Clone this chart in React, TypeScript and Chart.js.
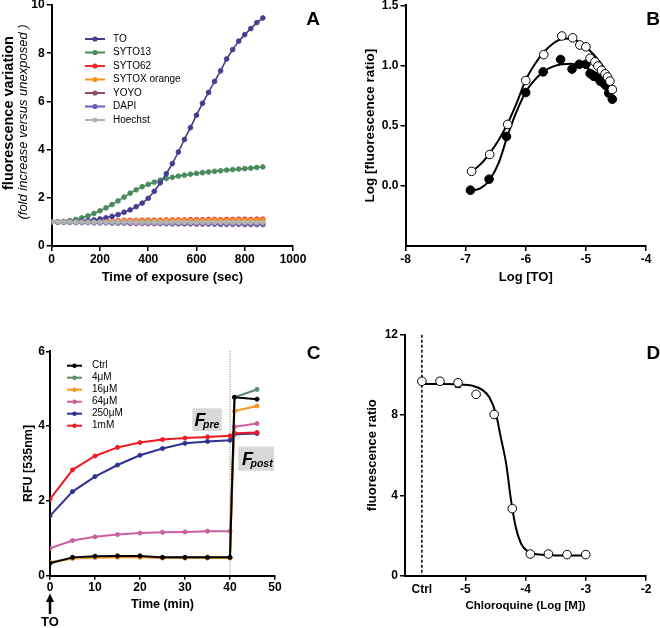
import React, { useEffect, useRef } from "react";
import { Chart, registerables } from "chart.js";

Chart.register(...registerables);

const FONT = "'Liberation Sans', Arial, Helvetica, sans-serif";

// ================= Panel A data =================
const timeA = [0, 25, 50, 75, 100, 125, 150, 175, 200, 225, 250, 275, 300, 325, 350, 375, 400, 425, 450, 475, 500, 525, 550, 575, 600, 625, 650, 675, 700, 725, 750, 775, 800, 825, 850, 875];
const namesA = ["TO", "SYTO13", "SYTO62", "SYTOX orange", "YOYO", "DAPI", "Hoechst"];
const toA = [1.0, 1.0, 1.0, 1.01, 1.02, 1.03, 1.05, 1.08, 1.12, 1.17, 1.23, 1.3, 1.4, 1.5, 1.63, 1.78, 1.98, 2.27, 2.62, 3.0, 3.42, 3.9, 4.42, 4.91, 5.43, 5.92, 6.37, 6.83, 7.27, 7.76, 8.15, 8.5, 8.77, 9.02, 9.27, 9.46];
const syto13A = [1.0, 1.0, 1.02, 1.05, 1.1, 1.17, 1.25, 1.35, 1.46, 1.58, 1.72, 1.87, 2.03, 2.19, 2.33, 2.46, 2.56, 2.65, 2.73, 2.8, 2.85, 2.9, 2.94, 2.98, 3.01, 3.04, 3.07, 3.1, 3.12, 3.15, 3.17, 3.19, 3.21, 3.23, 3.26, 3.28];
const syto62A = [1.0, 1.0, 1.01, 1.02, 1.02, 1.03, 1.03, 1.04, 1.04, 1.05, 1.05, 1.05, 1.06, 1.06, 1.06, 1.07, 1.07, 1.07, 1.07, 1.08, 1.08, 1.08, 1.08, 1.09, 1.09, 1.09, 1.1, 1.1, 1.09, 1.1, 1.1, 1.11, 1.11, 1.1, 1.11, 1.11];
const sytoxOrangeA = [1.0, 1.0, 1.0, 1.01, 1.01, 1.01, 1.02, 1.02, 1.02, 1.02, 1.03, 1.03, 1.03, 1.03, 1.04, 1.04, 1.04, 1.04, 1.04, 1.05, 1.05, 1.05, 1.05, 1.05, 1.05, 1.06, 1.06, 1.06, 1.06, 1.06, 1.06, 1.07, 1.07, 1.07, 1.07, 1.07];
const yoyoA = [1.0, 0.99, 0.99, 0.98, 0.98, 0.97, 0.97, 0.96, 0.96, 0.96, 0.95, 0.95, 0.95, 0.94, 0.94, 0.94, 0.93, 0.93, 0.93, 0.93, 0.92, 0.92, 0.92, 0.92, 0.91, 0.91, 0.91, 0.91, 0.9, 0.9, 0.9, 0.9, 0.89, 0.89, 0.89, 0.89];
const dapiA = [1.0, 0.99, 0.99, 0.99, 0.98, 0.98, 0.98, 0.97, 0.97, 0.97, 0.96, 0.96, 0.96, 0.96, 0.95, 0.95, 0.95, 0.95, 0.94, 0.94, 0.94, 0.94, 0.93, 0.93, 0.93, 0.93, 0.93, 0.92, 0.92, 0.92, 0.92, 0.92, 0.91, 0.91, 0.91, 0.91];
const hoechstA = [1.0, 1.0, 1.0, 1.0, 1.0, 0.99, 0.99, 0.99, 0.99, 0.99, 0.99, 0.99, 0.99, 0.99, 0.98, 0.98, 0.98, 0.98, 0.98, 0.98, 0.98, 0.98, 0.98, 0.98, 0.98, 0.98, 0.98, 0.98, 0.98, 0.98, 0.98, 0.98, 0.98, 0.98, 0.98, 0.98];
const xTicksA = [0, 200, 400, 600, 800, 1000];
const yTicksA = [0, 2, 4, 6, 8, 10];
const colorsA = ["#463c8f", "#4a8a5e", "#ee2a2a", "#f7941d", "#8c4f6e", "#6a5fb8", "#b3b3b3"];
const orderA = [1, 2, 6, 5, 4, 3, 0];

// ================= Panel B data =================
const openPointsB = [[-6.9, 0.12], [-6.6, 0.26], [-6.3, 0.51], [-6.0, 0.875], [-5.7, 1.09], [-5.4, 1.245], [-5.22, 1.23], [-5.1, 1.17], [-5.0, 1.155], [-4.93, 1.06], [-4.85, 1.03], [-4.8, 0.995], [-4.74, 0.96], [-4.68, 0.93], [-4.64, 0.905], [-4.6, 0.87], [-4.56, 0.8]];
const filledPointsB = [[-6.92, -0.036], [-6.61, 0.055], [-6.32, 0.41], [-6.0, 0.775], [-5.71, 0.947], [-5.42, 1.05], [-5.23, 0.97], [-5.11, 1.01], [-5.0, 1.01], [-4.93, 0.933], [-4.87, 0.91], [-4.8, 0.9], [-4.76, 0.87], [-4.7, 0.85], [-4.66, 0.83], [-4.62, 0.77], [-4.56, 0.72]];
const openCurveB = [[-6.9, 0.12], [-6.75, 0.18], [-6.6, 0.27], [-6.45, 0.38], [-6.3, 0.52], [-6.15, 0.69], [-6.0, 0.88], [-5.85, 1.01], [-5.7, 1.11], [-5.55, 1.18], [-5.4, 1.22], [-5.25, 1.225], [-5.1, 1.19], [-4.95, 1.13], [-4.8, 1.05], [-4.7, 0.98], [-4.62, 0.91], [-4.55, 0.82]];
const filledCurveB = [[-6.9, -0.04], [-6.75, -0.02], [-6.6, 0.05], [-6.45, 0.19], [-6.3, 0.42], [-6.15, 0.62], [-6.0, 0.78], [-5.85, 0.88], [-5.7, 0.95], [-5.55, 0.99], [-5.4, 1.01], [-5.25, 1.015], [-5.1, 1.0], [-4.95, 0.97], [-4.8, 0.93], [-4.7, 0.89], [-4.62, 0.85], [-4.55, 0.81]];
const xTicksB = [-8, -7, -6, -5, -4];
const yTicksB = [-0.5, 0, 0.5, 1, 1.5];

// ================= Panel C data =================
const timeC = [0, 5, 10, 15, 20, 25, 30, 35, 40, 41, 46];
const namesC = ["Ctrl", "4μM", "16μM", "64μM", "250μM", "1mM"];
const ctrlC = [0.33, 0.49, 0.52, 0.53, 0.53, 0.49, 0.49, 0.49, 0.49, 4.77, 4.72];
const uM4C = [0.35, 0.47, 0.5, 0.51, 0.51, 0.48, 0.48, 0.48, 0.48, 4.77, 4.98];
const uM16C = [0.36, 0.46, 0.48, 0.49, 0.49, 0.47, 0.47, 0.47, 0.47, 4.4, 4.54];
const uM64C = [0.73, 0.94, 1.04, 1.1, 1.14, 1.16, 1.17, 1.19, 1.19, 3.98, 4.07];
const uM250C = [1.6, 2.25, 2.65, 2.96, 3.22, 3.4, 3.54, 3.59, 3.62, 3.78, 3.8];
const mM1C = [2.05, 2.83, 3.2, 3.43, 3.56, 3.64, 3.68, 3.71, 3.74, 3.81, 3.83];
const xTicksC = [0, 10, 20, 30, 40, 50];
const yTicksC = [0, 2, 4, 6];
const additionTimeC = 40;
const colorsC = ["#000000", "#5b8a6e", "#f7931e", "#cc5fa0", "#2e3192", "#ed1c24"];
const orderC = [0, 2, 1, 3, 5, 4];

// ================= Panel D data =================
const ctrlLogD = -5.72;
const ctrlRatioD = 9.68;
const logConcD = [-5.42, -5.12, -4.82, -4.52, -4.22, -3.92, -3.62, -3.31, -3.0];
const ratioD = [9.68, 9.61, 9.03, 8.03, 3.34, 1.08, 1.08, 1.05, 1.05];
const squarePointsD = [[-5.42, 9.68], [-5.12, 9.5]];
const curveD = [[-5.72, 9.54], [-5.4, 9.54], [-5.13, 9.53], [-4.88, 9.46], [-4.71, 9.24], [-4.6, 8.88], [-4.49, 8.05], [-4.41, 6.89], [-4.32, 5.56], [-4.24, 3.75], [-4.16, 2.4], [-4.07, 1.58], [-3.96, 1.2], [-3.77, 1.05], [-3.5, 1.01], [-2.99, 1.0]];
const xTicksD = [-5, -4, -3, -2];
const yTicksD = [0, 4, 8, 12];

// ================= helpers =================
const pts = (arr: number[][]) => arr.map(([x, y]) => ({ x, y }));

type ScaleOpts = {
  min: number; max: number; ticks: number[]; size: number; horizontal: boolean;
  title?: string; titleSize?: number; titlePad?: number;
  tickLength?: number; tickPad?: number; fontSize?: number;
  fmt?: (v: number) => string; hideTick?: (v: number) => boolean;
};

function makeScale(o: ScaleOpts) {
  const tl = o.tickLength ?? 5;
  return {
    type: "linear",
    position: o.horizontal ? "bottom" : "left",
    min: o.min,
    max: o.max,
    afterBuildTicks: (s: any) => { s.ticks = o.ticks.map((v) => ({ value: v })); },
    afterFit: (s: any) => {
      if (o.horizontal) { s.height = o.size; s.paddingLeft = 0; s.paddingRight = 0; }
      else { s.width = o.size; s.paddingTop = 0; s.paddingBottom = 0; }
    },
    ticks: {
      autoSkip: false, maxRotation: 0, minRotation: 0,
      padding: o.tickPad ?? 2, color: "#000",
      font: { family: FONT, size: o.fontSize ?? 12, weight: "bold" },
      callback: (v: number) => (o.fmt ? o.fmt(v) : String(v)),
    },
    grid: {
      display: true, drawOnChartArea: false, drawTicks: true, tickLength: tl, lineWidth: 1.5,
      color: (c: any) => (o.hideTick && c.tick && o.hideTick(c.tick.value) ? "rgba(0,0,0,0)" : "#000"),
    },
    border: { display: true, color: "#000", width: 2 },
    title: {
      display: !!o.title, text: o.title || "", color: "#000",
      font: { family: FONT, size: o.titleSize ?? 13, weight: "bold", lineHeight: 1.2 },
      padding: o.horizontal ? { top: 0, bottom: o.titlePad ?? 0 } : { top: o.titlePad ?? 0, bottom: 0 },
    },
  };
}

function baseOptions(padding: any, scales: any) {
  return {
    responsive: false, maintainAspectRatio: false, animation: false, devicePixelRatio: 1, events: [],
    layout: { padding },
    plugins: { legend: { display: false }, tooltip: { enabled: false }, title: { display: false } },
    scales,
  };
}

type TextItem = { text: string; x: number; y: number; font: string; align?: CanvasTextAlign; baseline?: CanvasTextBaseline; rotate?: number };
function textPlugin(id: string, items: TextItem[]) {
  return {
    id,
    afterDraw(chart: any) {
      const ctx = chart.ctx;
      items.forEach((it) => {
        ctx.save();
        ctx.translate(it.x, it.y);
        if (it.rotate) ctx.rotate(it.rotate);
        ctx.font = it.font;
        ctx.fillStyle = "#000";
        ctx.textAlign = it.align || "center";
        ctx.textBaseline = it.baseline || "middle";
        ctx.fillText(it.text, 0, 0);
        ctx.restore();
      });
    },
  };
}

function legendPlugin(id: string, names: string[], colors: string[], x0: number, x1: number, xText: number, y0: number, dy: number, fontSize: number, r: number) {
  return {
    id,
    afterDraw(chart: any) {
      const ctx = chart.ctx;
      ctx.save();
      names.forEach((name, i) => {
        const y = y0 + i * dy;
        ctx.strokeStyle = colors[i];
        ctx.lineWidth = 2;
        ctx.beginPath(); ctx.moveTo(x0, y); ctx.lineTo(x1, y); ctx.stroke();
        ctx.fillStyle = colors[i];
        ctx.beginPath(); ctx.arc((x0 + x1) / 2, y, r, 0, Math.PI * 2); ctx.fill();
        ctx.fillStyle = "#000";
        ctx.font = `${fontSize}px ${FONT}`;
        ctx.textAlign = "left";
        ctx.textBaseline = "middle";
        ctx.fillText(name, xText, y);
      });
      ctx.restore();
    },
  };
}

// ================= Panel configs =================
function configA() {
  const series = [toA, syto13A, syto62A, sytoxOrangeA, yoyoA, dapiA, hoechstA];
  return {
    type: "line",
    data: {
      datasets: series.map((vals, i) => ({
        label: namesA[i],
        data: timeA.map((t, j) => ({ x: t, y: vals[j] })),
        borderColor: colorsA[i], backgroundColor: colorsA[i],
        pointBackgroundColor: colorsA[i], pointBorderColor: colorsA[i],
        borderWidth: 1.6, pointRadius: 2.4, pointBorderWidth: 0.8, tension: 0, order: orderA[i],
      })),
    },
    options: baseOptions({ left: 0, right: 37, top: 5, bottom: 0 }, {
      x: makeScale({ min: 0, max: 1000, ticks: xTicksA, size: 68, horizontal: true, title: "Time of exposure (sec)", titleSize: 13, titlePad: 28.7, tickPad: 1 }),
      y: makeScale({ min: 0, max: 10, ticks: yTicksA, size: 51.7, horizontal: false, tickPad: 2 }),
    }),
    plugins: [
      legendPlugin("legA", namesA, colorsA, 85, 105, 113, 39, 13.5, 10, 2.6),
      textPlugin("txtA", [
        { text: "fluorescence variation", x: 13, y: 113, font: `bold 14.5px ${FONT}`, rotate: -Math.PI / 2, baseline: "alphabetic" },
        { text: "(fold increase versus unexposed )", x: 26.5, y: 122, font: `italic 13px ${FONT}`, rotate: -Math.PI / 2, baseline: "alphabetic" },
        { text: "A", x: 313, y: 20, font: `bold 19px ${FONT}` },
      ]),
    ],
  };
}

function configB() {
  const curve = (d: number[][]) => ({
    data: pts(d), borderColor: "#000", borderWidth: 2, pointRadius: 0,
    cubicInterpolationMode: "monotone", order: 2,
  });
  const dots = (d: number[][], fill: string) => ({
    data: pts(d), showLine: false, pointRadius: 4.3, pointBorderWidth: 1,
    pointBackgroundColor: fill, pointBorderColor: "#000", order: 1,
  });
  return {
    type: "line",
    data: { datasets: [curve(openCurveB), curve(filledCurveB), dots(openPointsB, "#fff"), dots(filledPointsB, "#000")] },
    options: baseOptions({ left: 0, right: 14, top: 5, bottom: 0 }, {
      x: makeScale({ min: -8, max: -4, ticks: xTicksB, size: 68, horizontal: true, title: "Log [TO]", titleSize: 13, titlePad: 28.7, tickPad: 1 }),
      y: makeScale({
        min: -0.5, max: 1.5, ticks: yTicksB, size: 75.5, horizontal: false, title: "Log [fluorescence ratio]", titleSize: 13.5, titlePad: 32,
        fmt: (v) => (v < 0 ? "" : v.toFixed(1)), hideTick: (v) => v < 0,
      }),
    }),
    plugins: [textPlugin("txtB", [{ text: "B", x: 323, y: 20, font: `bold 19px ${FONT}` }])],
  };
}

function configC() {
  const series = [ctrlC, uM4C, uM16C, uM64C, uM250C, mM1C];
  const extras = {
    id: "extrasC",
    beforeDatasetsDraw(chart: any) {
      const { ctx, scales } = chart;
      const x = scales.x.getPixelForValue(additionTimeC);
      ctx.save();
      ctx.strokeStyle = "#777";
      ctx.lineWidth = 1;
      ctx.setLineDash([1, 1.5]);
      ctx.beginPath();
      ctx.moveTo(x, scales.y.getPixelForValue(6));
      ctx.lineTo(x, scales.y.getPixelForValue(0));
      ctx.stroke();
      ctx.restore();
    },
    afterDraw(chart: any) {
      const { ctx, scales } = chart;
      ctx.save();
      const box = (bx: number, by: number, bw: number, bh: number, sub: string, fx: number, fy: number, sx: number, sy: number) => {
        ctx.fillStyle = "#d8d8d8";
        ctx.fillRect(bx, by, bw, bh);
        ctx.fillStyle = "#000";
        ctx.textAlign = "left";
        ctx.textBaseline = "alphabetic";
        ctx.font = `italic bold 18px ${FONT}`;
        ctx.fillText("F", fx, fy);
        ctx.font = `italic bold 10.5px ${FONT}`;
        ctx.fillText(sub, sx, sy);
      };
      box(192.3, 94.3, 29.4, 22.7, "pre", 194.5, 112, 203, 113.5);
      box(238.3, 132.7, 35.7, 24, "post", 242, 150.5, 250.5, 152.5);
      const ax = scales.x.getPixelForValue(0);
      ctx.strokeStyle = "#000";
      ctx.lineWidth = 2.5;
      ctx.beginPath(); ctx.moveTo(ax, 300); ctx.lineTo(ax, 286); ctx.stroke();
      ctx.fillStyle = "#000";
      ctx.beginPath(); ctx.moveTo(ax, 279.5); ctx.lineTo(ax - 4, 288); ctx.lineTo(ax + 4, 288); ctx.closePath(); ctx.fill();
      ctx.font = `bold 13px ${FONT}`;
      ctx.textAlign = "center";
      ctx.textBaseline = "middle";
      ctx.fillText("TO", ax, 308.5);
      ctx.restore();
    },
  };
  return {
    type: "line",
    data: {
      datasets: series.map((vals, i) => ({
        label: namesC[i],
        data: timeC.map((t, j) => ({ x: t, y: vals[j] })),
        borderColor: colorsC[i], backgroundColor: colorsC[i],
        pointBackgroundColor: colorsC[i], pointBorderColor: colorsC[i],
        borderWidth: 2, pointRadius: 2.1, pointBorderWidth: 0.8, tension: 0, order: orderC[i],
      })),
    },
    options: baseOptions({ left: 0, right: 55, top: 37.3, bottom: 0 }, {
      x: makeScale({ min: 0, max: 50, ticks: xTicksC, size: 52.3, horizontal: true, title: "Time (min)", titleSize: 12.5, titlePad: 15.5, tickLength: 4, tickPad: 1 }),
      y: makeScale({ min: 0, max: 6, ticks: yTicksC, size: 50, horizontal: false, title: "RFU [535nm]", titleSize: 12.5, titlePad: 20.8, tickLength: 4, tickPad: 1 }),
    }),
    plugins: [
      extras,
      legendPlugin("legC", namesC, colorsC, 67, 82, 92, 51.7, 12, 10, 2.2),
      textPlugin("txtC", [{ text: "C", x: 313.5, y: 40, font: `bold 19px ${FONT}` }]),
    ],
  };
}

function configD() {
  const ctrlLine = {
    id: "ctrlLineD",
    beforeDatasetsDraw(chart: any) {
      const { ctx, scales } = chart;
      const x = scales.x.getPixelForValue(ctrlLogD);
      ctx.save();
      ctx.strokeStyle = "#000";
      ctx.lineWidth = 1.5;
      ctx.setLineDash([3, 2]);
      ctx.beginPath();
      ctx.moveTo(x, scales.y.getPixelForValue(12));
      ctx.lineTo(x, scales.y.getPixelForValue(0));
      ctx.stroke();
      ctx.restore();
    },
  };
  const circles = [[ctrlLogD, ctrlRatioD], ...logConcD.map((x, i) => [x, ratioD[i]])];
  return {
    type: "line",
    data: {
      datasets: [
        { data: pts(curveD), borderColor: "#000", borderWidth: 2, pointRadius: 0, cubicInterpolationMode: "monotone", order: 3 },
        { data: pts(squarePointsD), showLine: false, pointStyle: "rect", pointRadius: 3.8, pointBorderWidth: 1, pointBackgroundColor: "#fff", pointBorderColor: "#000", order: 2 },
        { data: pts(circles), showLine: false, pointRadius: 4.3, pointBorderWidth: 1, pointBackgroundColor: "#fff", pointBorderColor: "#000", order: 1 },
      ],
    },
    options: baseOptions({ left: 0, right: 14, top: 20.7, bottom: 0 }, {
      x: makeScale({
        min: -6, max: -2, ticks: [ctrlLogD, ...xTicksD], size: 52.3, horizontal: true, title: "Chloroquine (Log [M])", titleSize: 11.5, titlePad: 15.1, tickPad: 2,
        fmt: (v) => (v === ctrlLogD ? "Ctrl" : String(v)), hideTick: (v) => v === ctrlLogD,
      }),
      y: makeScale({ min: 0, max: 12, ticks: yTicksD, size: 75, horizontal: false, title: "fluorescence ratio", titleSize: 13, titlePad: 34.7, tickPad: 2 }),
    }),
    plugins: [ctrlLine, textPlugin("txtD", [{ text: "D", x: 323.3, y: 40, font: `bold 19px ${FONT}` }])],
  };
}

function ChartPanel({ left, top, build }: { left: number; top: number; build: () => any }) {
  const ref = useRef<HTMLCanvasElement>(null);
  useEffect(() => {
    const chart = new Chart(ref.current as HTMLCanvasElement, build());
    return () => chart.destroy();
  }, []);
  return (
    <canvas
      ref={ref}
      width={330}
      height={314}
      style={{ position: "absolute", left, top, width: 330, height: 314 }}
    />
  );
}

export default function App() {
  return (
    <div style={{ position: "absolute", left: 0, top: 0, width: 660, height: 628, background: "#fff" }}>
      <ChartPanel left={0} top={0} build={configA} />
      <ChartPanel left={330} top={0} build={configB} />
      <ChartPanel left={0} top={314} build={configC} />
      <ChartPanel left={330} top={314} build={configD} />
    </div>
  );
}
